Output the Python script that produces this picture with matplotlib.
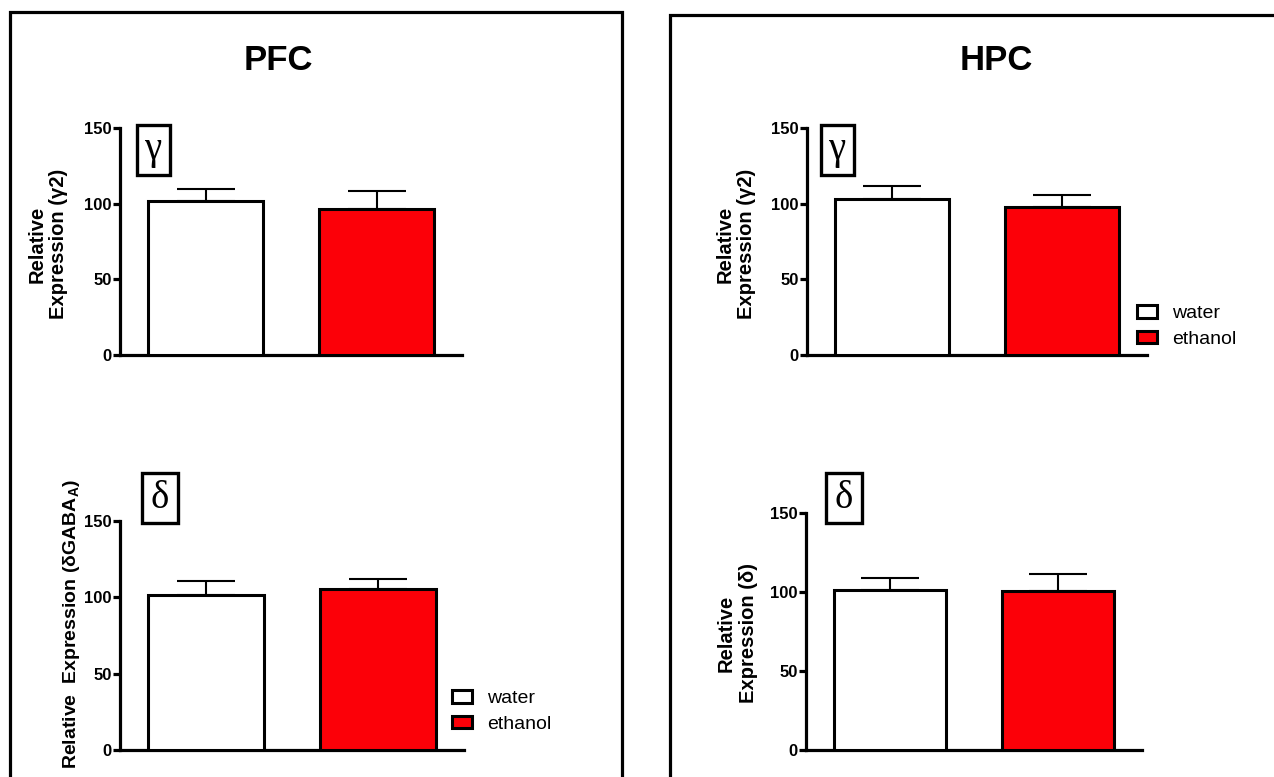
import matplotlib.pyplot as plt
from matplotlib.patches import Rectangle

plt.rcParams['font.family'] = ['Liberation Sans', 'DejaVu Sans']

# data
groups = ['water', 'ethanol']
bar_colors = ['white', '#fc0008']

pfc_gamma = [101.8, 96.3]
pfc_gamma_err = [7.7, 12.1]
pfc_delta = [101.4, 105.5]
pfc_delta_err = [9.0, 6.6]

hpc_gamma = [103.1, 98.0]
hpc_gamma_err = [8.4, 7.5]
hpc_delta = [101.3, 100.6]
hpc_delta_err = [7.4, 10.6]

yticks = [0, 50, 100, 150]

W, H = 1274, 777
fig = plt.figure(figsize=(W / 100, H / 100), dpi=100)


def px(x0, y0, x1, y1):
    # pixel box (origin top-left) -> figure fraction rect
    return [x0 / W, 1 - y1 / H, (x1 - x0) / W, (y1 - y0) / H]


def bar_panel(rect, vals, errs):
    ax = fig.add_axes(px(*rect))
    x = range(len(vals))
    bars = ax.bar(x, vals, width=0.67, color=bar_colors, edgecolor='black',
                  linewidth=2.2, zorder=3)
    ax.errorbar(x, vals, yerr=[[0] * len(errs), errs], fmt='none', ecolor='black',
                elinewidth=1.5, capsize=21, capthick=1.5, zorder=2)
    ax.set_xlim(-0.5, 1.5)
    ax.set_ylim(0, 150)
    ax.set_yticks(yticks)
    ax.set_xticks([])
    for s in ['top', 'right']:
        ax.spines[s].set_visible(False)
    for s in ['left', 'bottom']:
        ax.spines[s].set_linewidth(2.3)
    ax.tick_params(axis='y', width=2.3, length=5, labelsize=12, pad=1)
    for lab in ax.get_yticklabels():
        lab.set_fontweight('bold')
    ax.patch.set_alpha(0)
    return bars


def greek_box(cx, cy, w, h, letter):
    fig.add_artist(Rectangle(((cx - w / 2) / W, 1 - (cy + h / 2) / H), w / W, h / H,
                             transform=fig.transFigure, fill=False, lw=2.4,
                             edgecolor='black'))
    fig.text(cx / W, 1 - cy / H, letter, ha='center', va='center',
             fontsize=28, family='Liberation Serif')


def ylabel(cx, cy, text, size=14.5, spacing=1.2):
    fig.text(cx / W, 1 - cy / H, text, rotation=90, ha='center', va='center',
             fontsize=size, fontweight='bold', linespacing=spacing, multialignment='center')


def legend(handles, x, y):
    fig.legend(handles, groups, loc='upper left', bbox_to_anchor=(x / W, 1 - y / H),
               frameon=False, fontsize=14, handlelength=1.05, handleheight=0.62,
               handletextpad=0.75, labelspacing=0.45, borderpad=0, borderaxespad=0)


# panel frames (run off the bottom / right edge)
fig.add_artist(Rectangle((10 / W, -0.1), 612 / W, 1.1 - 12 / H, transform=fig.transFigure,
                         fill=False, lw=2.3, edgecolor='black', clip_on=False))
fig.add_artist(Rectangle((670 / W, -0.1), 700 / W, 1.1 - 15 / H, transform=fig.transFigure,
                         fill=False, lw=2.3, edgecolor='black', clip_on=False))

fig.text(278 / W, 1 - 60 / H, 'PFC', ha='center', va='center', fontsize=25, fontweight='bold')
fig.text(996 / W, 1 - 60 / H, 'HPC', ha='center', va='center', fontsize=25, fontweight='bold')

# PFC
bar_panel((120, 128, 462, 355), pfc_gamma, pfc_gamma_err)
greek_box(153, 150, 33, 50, 'γ')
ylabel(48, 244, 'Relative\nExpression (γ2)')

bars = bar_panel((120, 521, 464, 750), pfc_delta, pfc_delta_err)
greek_box(160, 498, 36, 50, 'δ')
ylabel(72, 624, r'Relative  Expression (δGABA$_\mathregular{A}$)', size=14)
legend(bars, 452, 690)

# HPC
bars = bar_panel((807, 128, 1147, 355), hpc_gamma, hpc_gamma_err)
greek_box(837, 150, 33, 50, 'γ')
ylabel(736, 244, 'Relative\nExpression (γ2)')
legend(bars, 1137, 305)

bar_panel((806, 513, 1142, 750), hpc_delta, hpc_delta_err)
greek_box(844, 498, 36, 50, 'δ')
ylabel(737, 633, 'Relative\nExpression (δ)')

fig.savefig('out.png', dpi=100)
